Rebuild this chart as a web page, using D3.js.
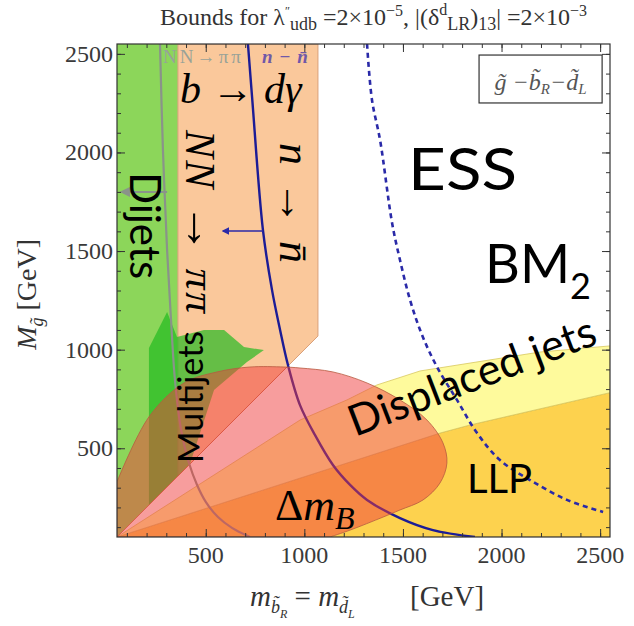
<!DOCTYPE html>
<html>
<head>
<meta charset="utf-8">
<script src="https://cdn.jsdelivr.net/npm/d3@7"></script>
<style>
body { margin: 0; background: #fff; }
svg { display: block; }
</style>
</head>
<body>
<svg id="chart" width="634" height="626"></svg>
<script>
// region boundaries, in GeV : [m_squark, M_gluino]
var dijets = [[50,50],[50,2550],[359,2550],[359,359]];
var bToDGamma = [[359,359],[359,2550],[1069,2550],[1069,1069]];
var multijets = [[212,212],[212,1008],[304,1191],[354,1064],[491,1100],[593,1100],[694,1013],[795,998],[709,937],[542,795],[420,420]];
var llpTop = [[50,50],[1216,425],[1688,577],[1840,618],[2550,782]];
var displacedTop = [[50,50],[471,319],[978,643],[1216,745],[1368,821],[1587,892],[1840,932],[2195,988],[2550,1019]];
var deltaMB = [[50,330],[212,659],[390,831],[557,887],[724,912],[897,912],[978,907],[1145,887],[1318,831],[1485,745],[1622,643],[1703,527],[1723,425],[1688,324],[1602,238],[1485,187],[1399,151],[1232,85],[1130,50]];

// bound curves
var nnPiPi = [[268,2550],[283,2012],[304,1505],[324,1150],[344,846],[375,593],[415,425],[456,314],[501,227],[562,151],[633,96],[724,50]];
var nNbar = [[714,2550],[735,2281],[790,1607],[836,1303],[877,1100],[917,922],[978,719],[1054,567],[1145,415],[1232,314],[1318,238],[1485,146],[1652,85],[1865,50]];
var nNbarESS = [[1318,2550],[1343,2266],[1384,2063],[1445,1642],[1485,1455],[1536,1252],[1597,1074],[1673,912],[1774,745],[1876,577],[1992,440],[2144,339],[2332,238],[2515,177]];

// arrows showing the excluded side: [from x, to x, at y]
var nnArrow = [304, 75, 1800];
var nNbarArrow = [790, 588, 1602];

var minorTicks = d3.range(100, 2501, 100);
var majorTicks = [500, 1000, 1500, 2000, 2500];

var padL = 117, padT = 44, w = 493, h = 493;
var svg = d3.select("#chart");

var x = d3.scaleLinear().domain([50, 2550]).range([padL, padL + w]);
var y = d3.scaleLinear().domain([50, 2550]).range([padT + h, padT]);

var defs = svg.append("defs");
defs.append("clipPath").attr("id", "plot")
  .append("rect").attr("x", padL).attr("y", padT).attr("width", w).attr("height", h);

[["headGray", "#8a938a"], ["headBlue", "#2a2aa8"]].forEach(function(m) {
  defs.append("marker").attr("id", m[0])
    .attr("viewBox", "0 0 10 10").attr("refX", 8).attr("refY", 5)
    .attr("markerWidth", 5).attr("markerHeight", 5).attr("orient", "auto")
    .append("path").attr("d", "M0,0 L10,5 L0,10 z").attr("fill", m[1]);
});

var area = d3.line().x(function(d) { return x(d[0]); }).y(function(d) { return y(d[1]); });
var curve = d3.line().x(function(d) { return x(d[0]); }).y(function(d) { return y(d[1]); }).curve(d3.curveCatmullRom);

var g = svg.append("g").attr("clip-path", "url(#plot)");

g.append("path").attr("d", area(dijets) + "Z").attr("fill", "#8cd65a");
g.append("path").attr("d", area(bToDGamma) + "Z").attr("fill", "#fac89b")
  .attr("stroke", "#d9a07a").attr("stroke-width", 1);
g.append("path").attr("d", area(multijets) + "Z").attr("fill", "rgb(30,185,30)").attr("fill-opacity", 0.68);

var llp = llpTop.concat([[2550, 50]]);
g.append("path").attr("d", area(llp) + "Z").attr("fill", "#fdd24e")
  .attr("stroke", "#d8b040").attr("stroke-width", 0.8);
var displaced = displacedTop.concat(llpTop.slice().reverse());
g.append("path").attr("d", area(displaced) + "Z").attr("fill", "#fefa9c")
  .attr("stroke", "#d8c860").attr("stroke-width", 0.8);

// y = x line
g.append("path").attr("d", area([[50,50],[912,912]])).attr("stroke", "#c86a40").attr("stroke-width", 0.8).attr("fill", "none");

g.append("path").attr("d", curve(nnPiPi)).attr("fill", "none").attr("stroke", "#8a938a").attr("stroke-width", 2.2);
g.append("path").attr("d", curve(nNbar)).attr("fill", "none").attr("stroke", "#1c1c96").attr("stroke-width", 2.4);
g.append("path").attr("d", curve(nNbarESS)).attr("fill", "none").attr("stroke", "#2a2aa8")
  .attr("stroke-width", 2.6).attr("stroke-dasharray", "5,4");

g.append("path").attr("d", curve(deltaMB) + "L" + x(50) + "," + y(50) + "Z")
  .attr("fill", "rgb(240,60,60)").attr("fill-opacity", 0.5)
  .attr("stroke", "#b85a40").attr("stroke-width", 0.8);

g.append("line").attr("x1", x(nnArrow[0])).attr("x2", x(nnArrow[1]))
  .attr("y1", y(nnArrow[2])).attr("y2", y(nnArrow[2]))
  .attr("stroke", "#8a938a").attr("stroke-width", 2).attr("marker-end", "url(#headGray)");
g.append("line").attr("x1", x(nNbarArrow[0])).attr("x2", x(nNbarArrow[1]))
  .attr("y1", y(nNbarArrow[2])).attr("y2", y(nNbarArrow[2]))
  .attr("stroke", "#2a2aa8").attr("stroke-width", 1.5).attr("marker-end", "url(#headBlue)");

// ticks, Mathematica style: inside, on all four sides
function ticks(axis, tr, size, vals) {
  var a = svg.append("g").attr("transform", tr)
    .call(axis.tickValues(vals).tickSize(size).tickFormat(""));
  a.select(".domain").remove();
  a.selectAll("line").attr("stroke", "#333").attr("stroke-width", 1);
}
ticks(d3.axisBottom(x), "translate(0," + (padT + h) + ")", -4, minorTicks);
ticks(d3.axisBottom(x), "translate(0," + (padT + h) + ")", -8, majorTicks);
ticks(d3.axisTop(x), "translate(0," + padT + ")", -4, minorTicks);
ticks(d3.axisTop(x), "translate(0," + padT + ")", -8, majorTicks);
ticks(d3.axisLeft(y), "translate(" + padL + ",0)", -4, minorTicks);
ticks(d3.axisLeft(y), "translate(" + padL + ",0)", -8, majorTicks);
ticks(d3.axisRight(y), "translate(" + (padL + w) + ",0)", -4, minorTicks);
ticks(d3.axisRight(y), "translate(" + (padL + w) + ",0)", -8, majorTicks);

svg.append("rect").attr("x", padL).attr("y", padT).attr("width", w).attr("height", h)
  .attr("fill", "none").attr("stroke", "#333").attr("stroke-width", 1.2);

var serif = "'Liberation Serif', 'DejaVu Serif', serif";
var sans = "Lato, 'Open Sans', sans-serif";

svg.append("g").selectAll("text").data(majorTicks).enter().append("text")
  .attr("x", function(d) { return x(d); }).attr("y", padT + h + 26)
  .attr("text-anchor", "middle").attr("font-family", serif).attr("font-size", 24)
  .attr("fill", "#3a3a3a").text(function(d) { return d; });
svg.append("g").selectAll("text").data(majorTicks).enter().append("text")
  .attr("x", padL - 4).attr("y", function(d) { return y(d) + 8; })
  .attr("text-anchor", "end").attr("font-family", serif).attr("font-size", 24)
  .attr("fill", "#3a3a3a").text(function(d) { return d; });

// title
var title = svg.append("text").attr("x", 160).attr("y", 25)
  .attr("font-family", serif).attr("font-size", 24).attr("fill", "#333");
title.append("tspan").text("Bounds for \u03bb");
title.append("tspan").attr("font-size", 12).attr("dy", -10).text("\u2033");
title.append("tspan").attr("font-size", 18).attr("dy", 15).text("udb");
title.append("tspan").attr("dy", -5).text(" =2\u00d710");
title.append("tspan").attr("font-size", 16).attr("dy", -9).text("\u22125");
title.append("tspan").attr("dy", 9).text(",  |(\u03b4");
title.append("tspan").attr("font-size", 16).attr("dy", -10).text("d");
title.append("tspan").attr("font-size", 18).attr("dy", 15).text("LR");
title.append("tspan").attr("dy", -5).text(")");
title.append("tspan").attr("font-size", 18).attr("dy", 5).text("13");
title.append("tspan").attr("dy", -5).text("| =2\u00d710");
title.append("tspan").attr("font-size", 16).attr("dy", -9).text("\u22123");

// axis titles
var xt = svg.append("text").attr("x", 250).attr("y", 606)
  .attr("font-family", serif).attr("font-size", 29).attr("fill", "#333");
xt.append("tspan").attr("font-style", "italic").text("m");
xt.append("tspan").attr("font-size", 18).attr("font-style", "italic").attr("dy", 7).text("b\u0303");
xt.append("tspan").attr("font-size", 12).attr("font-style", "italic").attr("dy", 5).text("R");
xt.append("tspan").attr("dy", -12).text(" = ");
xt.append("tspan").attr("font-style", "italic").text("m");
xt.append("tspan").attr("font-size", 18).attr("font-style", "italic").attr("dy", 7).text("d\u0303");
xt.append("tspan").attr("font-size", 12).attr("font-style", "italic").attr("dy", 5).text("L");
xt.append("tspan").attr("x", 410).attr("dy", -12).text("[GeV]");

var yt = svg.append("text").attr("transform", "translate(36," + y(1280) + ") rotate(-90)")
  .attr("text-anchor", "middle").attr("font-family", serif).attr("font-size", 28).attr("fill", "#333");
yt.append("tspan").attr("font-style", "italic").text("M");
yt.append("tspan").attr("font-size", 18).attr("font-style", "italic").attr("dy", 7).text("g\u0303");
yt.append("tspan").attr("dy", -7).text(" [GeV]");

// legend box
svg.append("rect").attr("x", x(1886)).attr("y", y(2494))
  .attr("width", x(2510) - x(1886)).attr("height", y(2251) - y(2494))
  .attr("fill", "#fff").attr("stroke", "#333").attr("stroke-width", 1.2);
var leg = svg.append("text").attr("x", (x(1886) + x(2510)) / 2).attr("y", y(2318))
  .attr("text-anchor", "middle").attr("font-family", serif).attr("font-size", 24)
  .attr("font-style", "italic").attr("fill", "#555");
leg.append("tspan").text("g\u0303 \u2212b\u0303");
leg.append("tspan").attr("font-size", 15).attr("dy", 4).text("R");
leg.append("tspan").attr("dy", -4).text("\u2212d\u0303");
leg.append("tspan").attr("font-size", 15).attr("dy", 4).text("L");

// small curve labels at the top
svg.append("text").attr("x", x(283)).attr("y", y(2454))
  .attr("font-family", serif).attr("font-size", 19).attr("fill", "#98a298")
  .attr("textLength", 78).attr("lengthAdjust", "spacing")
  .text("NN\u2192\u03c0\u03c0");
svg.append("text").attr("x", x(785)).attr("y", y(2454))
  .attr("font-family", serif).attr("font-size", 19).attr("font-style", "italic").attr("font-weight", "bold")
  .attr("fill", "#7058a8").attr("textLength", 46).attr("lengthAdjust", "spacing").text("n \u2212 n\u0304");

// region labels
var plotText = svg.append("g");
function note(t, px, py, size, font, rot) {
  return plotText.append("text")
    .attr("transform", "translate(" + x(px) + "," + y(py) + ") rotate(" + rot + ")")
    .attr("font-family", font).attr("font-size", size).attr("fill", "#000").text(t);
}
note("ESS", 1526, 1810, 58, sans, 0).attr("textLength", 109).attr("lengthAdjust", "spacingAndGlyphs");
var bm = note("BM", 1916, 1338, 54, sans, 0);
bm.append("tspan").attr("font-size", 36).attr("dy", 16).text("2");
note("LLP", 1825, 273, 40, sans, 0);
note("Dijets", 116, 1900, 42, sans, 90);
note("Multijets", 486, 425, 34, sans, -90);
note("Displaced jets", 1257, 557, 43, sans, -21);

var dm = note("\u0394", 851, 136, 44, serif, 0);
dm.append("tspan").attr("font-style", "italic").text("m");
dm.append("tspan").attr("font-style", "italic").attr("font-size", 32).attr("dy", 9).text("B");

var bd = note("", 369, 2251, 42, serif, 0);
bd.append("tspan").attr("font-style", "italic").text("b");
bd.append("tspan").text(" \u2192 ");
bd.append("tspan").attr("font-style", "italic").text("d\u03b3");

var nn = note("", 400, 2114, 42, serif, 90).attr("textLength", 183).attr("lengthAdjust", "spacing");
nn.append("tspan").attr("font-style", "italic").text("NN ");
nn.append("tspan").attr("font-weight", "bold").attr("font-size", 50).text("\u2192");
nn.append("tspan").attr("font-style", "italic").text(" \u03c0\u03c0");

var nb = note("", 877, 2048, 44, serif, 90).attr("textLength", 120).attr("lengthAdjust", "spacing");
nb.append("tspan").attr("font-style", "italic").text("n ");
nb.append("tspan").text("\u2192");
nb.append("tspan").attr("font-style", "italic").text(" n\u0304");
</script>
</body>
</html>
